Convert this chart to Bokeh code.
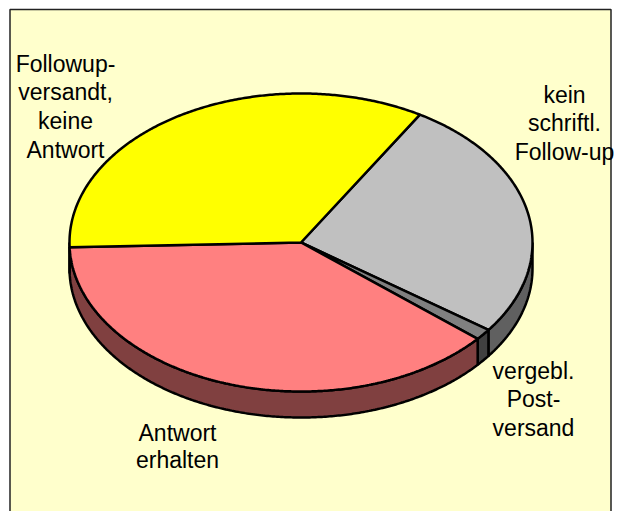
import numpy as np
from bokeh.plotting import figure
from bokeh.models import Range1d
from bokeh.core.properties import value
from bokeh.embed import file_html
from bokeh.resources import INLINE

categories = ["kein schriftl. Follow-up", "vergebl. Postversand", "Antwort erhalten", "Followup-versandt, keine Antwort"]
shares = [26.4, 1.2, 38.3, 34.1]
top_colors = ["#C0C0C0", "#808080", "#FF8080", "#FFFF00"]
side_colors = ["#606060", "#404040", "#804040", "#808000"]
label_lines = [["kein", "schriftl.", "Follow-up"], ["vergebl.", "Post-", "versand"],
               ["Antwort", "erhalten"], ["Followup-", "versandt,", "keine", "Antwort"]]
label_x = [564, 533, 177, 65]
label_y0 = [94, 370, 432, 63]
label_step = [28.5, 28.5, 27.5, 28.7]

start_deg = 59.1
cx, cy, rx, ry, depth = 300.5, 242.0, 231.5, 149.0, 26.0
BG = "#FFFFCC"

p = figure(width=622, height=511, x_range=Range1d(0, 622), y_range=Range1d(511, 0),
           output_backend="svg", toolbar_location=None, min_border=0,
           background_fill_color="white", border_fill_color="white", outline_line_color=None)
p.axis.visible = False
p.grid.visible = False

p.quad(left=[9.5], right=[610.5], top=[9], bottom=[530], fill_color=BG, line_color="#222222", line_width=1.5)

def rim(a0, a1):
    t = np.radians(np.linspace(a0, a1, max(int(abs(a1 - a0) * 2), 2) + 1))
    return cx + rx * np.cos(t), cy - ry * np.sin(t)

edges = start_deg - np.cumsum([0] + shares) * 3.6

# side walls (only the front half of the rim is visible)
for i, col in enumerate(side_colors):
    a0, a1 = min(edges[i], 0), max(edges[i + 1], -180)
    if a0 <= a1:
        continue
    x, y = rim(a0, a1)
    p.patch(np.r_[x, x[::-1]], np.r_[y, y[::-1] + depth], fill_color=col, line_color="black", line_width=2.5)

# top faces
for i, col in enumerate(top_colors):
    x, y = rim(edges[i], edges[i + 1])
    p.patch(np.r_[cx, x, cx], np.r_[cy, y, cy], fill_color=col, line_color="black", line_width=2.5)

for lines, lx, ly, step in zip(label_lines, label_x, label_y0, label_step):
    for j, line in enumerate(lines):
        p.text(x=[lx], y=[ly + j * step], text=[line], text_align="center", text_baseline="middle",
               text_font=value("Liberation Sans"), text_font_size="23px", text_color="black")

open("out.html", "w").write(file_html(p, INLINE))
